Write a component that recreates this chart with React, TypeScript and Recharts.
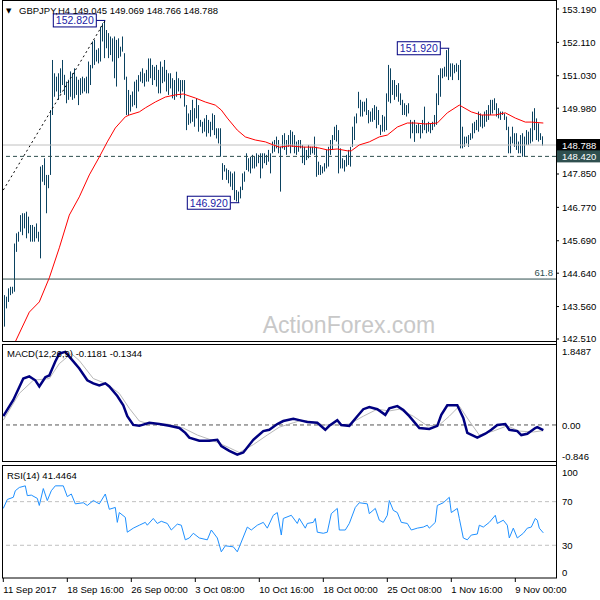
import React from "react";
import {
  Bar,
  ComposedChart,
  Line,
  ReferenceDot,
  ReferenceLine,
  XAxis,
  YAxis,
} from "recharts";

// GBPJPY H4 bars, high / low per bar (11 Sep - 10 Nov 2017)
const highs = [
  143.18, 143.93, 143.88, 144.15, 144.2, 144.2, 145.6, 145.93, 145.98, 146.52,
  146.58, 146.58, 146.63, 146.47, 146.2, 146.2, 146.14, 146.25, 145.98, 148.09,
  148.14, 148.36, 147.82, 147.82, 149.92, 151.54, 151.11, 151.0, 151.11, 151.27,
  151.54, 151.06, 150.84, 150.9, 151.17, 151.11, 151.27, 151.0, 150.9, 150.95,
  151.0, 150.95, 151.0, 151.49, 151.38, 152.14, 152.19, 151.87, 151.92, 152.62,
  152.73, 152.82, 152.51, 152.41, 152.3, 152.24, 152.3, 152.19, 152.24, 151.97,
  152.3, 151.76, 151.0, 150.57, 150.41, 150.52, 150.84, 150.9,
  151.05, 151.16, 151.27, 151.11, 151.22, 151.59, 151.59, 151.38, 151.32, 151.38,
  151.22, 151.49, 151.32, 151.54, 151.22, 151.11, 151.11, 150.95, 150.89, 151.16,
  150.95, 150.89, 150.89, 150.89, 150.08, 149.81, 149.92, 150.25, 149.98, 150.3,
  150.08, 149.6, 149.54, 149.65, 149.76, 149.6, 149.54, 149.81, 149.76, 149.33,
  149.33, 149.33, 148.2, 148.14, 148.03, 147.98, 147.93, 147.87, 147.93, 147.33,
  147.28, 147.44, 147.87, 147.93, 148.52, 148.36, 148.41, 148.47, 148.41, 148.52,
  148.47, 148.52, 148.52, 148.52, 148.47, 148.63, 148.52,
  148.9, 148.95, 149.06, 148.95, 148.73, 149.11, 149.17, 148.95, 149.11, 149.27,
  149.22, 149.11, 148.9, 148.95, 148.95, 148.79, 148.73, 148.63, 148.79, 148.73,
  148.73, 149.06, 148.73, 148.25, 148.14, 148.09, 148.2, 148.63, 148.73, 148.95,
  149.11, 149.38, 149.44, 149.27, 148.68, 148.36, 148.3, 148.47, 148.63, 148.73,
  149.38, 149.71, 149.81, 150.51, 150.25, 150.19, 150.19, 150.3, 149.92, 149.87,
  149.98, 150.08, 150.03, 149.92, 149.44, 149.76, 149.71, 150.46, 151.38, 151.27,
  150.89, 150.89, 150.73, 150.79, 150.46, 150.25, 150.14, 150.08, 150.14,
  149.6, 149.54, 149.6, 149.44, 149.49, 149.44, 149.6, 150.03, 149.49, 149.54,
  149.49, 149.54, 149.76, 150.46, 151.05, 151.27, 151.27, 151.32, 151.86, 151.92,
  151.43, 151.43, 151.38, 151.43, 151.38, 151.54, 149.38, 149.06, 149.06, 149.11,
  149.17, 149.49, 149.54, 149.6, 149.87, 149.81, 149.76, 149.87, 149.92, 150.08,
  150.25, 150.25, 150.3, 150.14, 149.98, 149.87, 149.87, 149.81, 149.71, 149.38,
  149.06, 149.38, 149.17, 149.17, 148.9, 149.11, 149.17, 149.06, 149.27, 149.22,
  149.33, 149.87, 149.98, 149.65, 149.49, 149.17, 149.07,
];

const lows = [
  142.7, 142.91, 143.5, 143.71, 143.93, 143.98, 144.04, 145.33, 145.66, 145.98,
  145.87, 146.09, 145.77, 145.93, 145.66, 145.66, 145.66, 145.77, 145.66, 145.12,
  147.6, 147.49, 146.58, 147.39, 147.82, 149.76, 150.35, 150.52, 150.25, 150.46,
  150.73, 150.41, 150.14, 150.25, 150.35, 150.25, 150.3, 150.41, 150.08, 150.41,
  150.46, 150.52, 150.46, 150.46, 150.73, 151.27, 151.38, 151.49, 151.43, 151.49,
  152.14, 151.6, 151.92, 151.6, 151.7, 151.49, 150.95, 150.68, 151.6, 151.65,
  151.81, 150.9, 149.76, 149.76, 149.87, 150.03, 150.08, 149.98,
  150.52, 150.84, 150.79, 150.68, 150.84, 150.84, 150.95, 150.73, 150.89, 150.68,
  150.46, 150.46, 150.79, 150.84, 150.52, 150.41, 150.62, 150.3, 150.25, 150.35,
  150.52, 150.3, 150.52, 150.03, 149.27, 149.44, 149.49, 149.54, 149.38, 149.65,
  149.22, 149.38, 149.17, 149.22, 149.06, 149.17, 149.06, 149.27, 149.11, 149.0,
  148.84, 148.41, 147.66, 147.93, 147.66, 147.55, 147.44, 147.33, 147.01, 146.96,
  146.92, 147.06, 147.33, 147.6, 147.98, 147.93, 147.87, 148.03, 148.03, 148.09,
  148.2, 147.71, 148.03, 148.2, 148.14, 148.25, 147.87,
  148.52, 148.57, 148.68, 148.52, 147.28, 148.68, 148.63, 148.47, 148.73, 148.52,
  148.73, 148.52, 148.47, 148.57, 148.68, 148.2, 148.14, 148.3, 148.36, 148.47,
  148.52, 148.47, 147.76, 147.82, 147.82, 147.87, 147.93, 148.03, 148.09, 148.47,
  148.63, 148.95, 148.9, 147.87, 148.03, 148.03, 147.93, 148.09, 148.14, 148.09,
  148.73, 148.95, 149.49, 149.98, 149.71, 149.71, 149.87, 149.76, 149.49, 149.54,
  149.54, 149.6, 149.33, 149.44, 149.11, 149.22, 149.22, 149.27, 150.19, 150.14,
  150.41, 150.25, 150.35, 150.19, 150.08, 149.76, 149.76, 149.71, 149.81,
  149.0, 149.17, 148.89, 149.17, 149.17, 149.0, 149.17, 149.27, 149.17, 149.22,
  149.17, 149.27, 149.38, 149.44, 150.08, 150.35, 150.95, 151.0, 151.0, 150.89,
  151.0, 150.89, 151.11, 151.16, 150.89, 148.68, 148.68, 148.73, 148.84, 148.73,
  148.95, 149.0, 149.17, 149.27, 149.22, 149.38, 149.33, 149.38, 149.54, 149.6,
  149.76, 149.81, 149.92, 149.71, 149.65, 149.6, 149.76, 149.6, 149.27, 148.52,
  148.52, 148.84, 148.73, 148.63, 148.52, 148.52, 148.41, 148.41, 148.79, 148.79,
  148.84, 148.9, 149.27, 148.95, 148.9, 148.95, 148.77,
];

// moving average (red)
const maIdx = [
  6, 13, 18, 23, 28, 33, 38, 43, 48, 52, 56, 61, 63, 68, 71, 76, 81, 86, 90, 96,
  101, 106, 109, 112, 117, 121, 126, 131, 135, 138, 143, 150, 155, 158, 162,
  167, 172, 174, 178, 183, 188, 192, 197, 202, 206, 211, 217, 222, 228, 234,
  239, 246, 251, 256, 261, 264, 270,
];
const maVal = [
  142.42, 143.38, 143.71, 144.49, 145.46, 146.52, 147.11, 147.82, 148.4, 148.89,
  149.34, 149.7, 149.76, 149.86, 149.99, 150.18, 150.34, 150.41, 150.44, 150.31,
  150.18, 150.08, 149.92, 149.66, 149.27, 149.05, 148.95, 148.89, 148.79, 148.72,
  148.76, 148.72, 148.72, 148.69, 148.63, 148.66, 148.6, 148.6, 148.79, 148.89,
  149.05, 149.11, 149.37, 149.5, 149.5, 149.47, 149.5, 149.83, 150.08, 149.86,
  149.76, 149.76, 149.83, 149.66, 149.53, 149.53, 149.5,
];

// dotted trend line up to the 152.820 high
const trendIdx = [0, 51];
const trendVal = [147.33, 152.82];

// swing labels
const markIdx = [51, 118, 223];
const markVal = [152.82, 146.92, 151.92];

const LAST_PRICE = 148.788;
const SUPPORT = 148.42;
const FIB_618 = 144.45;

const priceTicks = [
  153.19, 152.11, 151.03, 149.98, LAST_PRICE, SUPPORT, 147.85, 146.77, 145.69,
  144.64, 143.56, 142.51,
];

// MACD(12,26,9)
const macdIdx = [
  0, 5, 10, 13, 16, 18, 21, 23, 26, 28, 31, 33, 38, 42, 45, 48, 51, 53, 57, 60,
  62, 65, 68, 73, 78, 83, 88, 91, 93, 98, 103, 107, 109, 113, 117, 120, 125, 130,
  133, 137, 140, 145, 148, 152, 157, 161, 163, 167, 169, 173, 177, 180, 183, 187,
  191, 193, 197, 200, 203, 208, 213, 217, 219, 222, 227, 230, 232, 237, 241, 244,
  247, 251, 253, 257, 259, 262, 266, 267, 270,
];
const macdVal = [
  0.2, 0.57, 1.06, 1.11, 1.02, 0.88, 1.09, 1.13, 1.45, 1.63, 1.67, 1.56, 1.29,
  1.02, 0.95, 0.9, 0.95, 0.88, 0.66, 0.45, 0.2, 0.0, -0.02, 0.05, 0.02, -0.02,
  -0.07, -0.18, -0.29, -0.36, -0.36, -0.34, -0.48, -0.59, -0.68, -0.63, -0.34,
  -0.14, -0.11, 0.02, 0.09, 0.14, 0.11, 0.07, 0.05, -0.11, -0.02, 0.11, 0.0,
  -0.02, 0.2, 0.36, 0.41, 0.36, 0.23, 0.38, 0.43, 0.34, 0.2, -0.07, -0.09, -0.02,
  0.23, 0.45, 0.45, 0.16, -0.18, -0.29, -0.2, -0.11, 0.0, 0.02, -0.11, -0.14,
  -0.23, -0.2, -0.07, -0.05, -0.12,
];
const signalIdx = [
  0, 8, 15, 23, 28, 34, 38, 45, 52, 58, 63, 68, 73, 82, 90, 97, 105, 113, 118,
  125, 132, 138, 145, 148, 153, 160, 167, 173, 180, 187, 193, 198, 205, 212, 218,
  223, 228, 233, 238, 245, 252, 258, 265, 270,
];
const signalVal = [
  0.11, 0.72, 1.02, 1.06, 1.4, 1.63, 1.47, 1.06, 0.93, 0.72, 0.38, 0.09, 0.02,
  0.02, -0.07, -0.23, -0.36, -0.52, -0.63, -0.45, -0.23, -0.05, 0.05, 0.09, 0.09,
  0.0, 0.0, 0.02, 0.2, 0.36, 0.32, 0.36, 0.2, -0.02, 0.0, 0.2, 0.43, 0.09, -0.23,
  -0.14, -0.02, -0.14, -0.16, -0.13,
];
const macdTicks = [1.8487, 0, -0.846];
const macdTickText = ["1.8487", "0.00", "-0.846"];

// RSI(14)
const rsiIdx = [
  0, 2, 5, 6, 8, 11, 12, 14, 17, 18, 20, 22, 24, 26, 30, 32, 34, 36, 40, 42, 45,
  48, 51, 53, 56, 57, 58, 61, 62, 65, 68, 71, 72, 75, 77, 79, 82, 84, 87, 89, 91,
  93, 95, 98, 102, 104, 107, 109, 111, 115, 117, 119, 122, 124, 127, 130, 132,
  135, 137, 139, 140, 144, 147, 148, 151, 152, 155, 156, 157, 160, 162, 164, 167,
  168, 171, 173, 176, 178, 182, 183, 186, 188, 190, 192, 193, 195, 197, 199, 202,
  204, 207, 210, 212, 213, 216, 217, 220, 223, 224, 227, 228, 230, 232, 234, 237,
  238, 240, 243, 246, 247, 250, 252, 253, 255, 257, 260, 262, 264, 266, 267, 268,
  270,
];
const rsiVal = [
  63.8, 72, 74, 80, 83, 84.5, 75.5, 76, 73, 66.5, 82, 71, 80, 84.5, 84.5, 74.6,
  77, 68, 69, 66.5, 71, 68, 77, 63, 64.7, 51, 60, 55.6, 42, 45.7, 48.4, 51, 48.4,
  54.6, 50, 52, 50, 44, 49.4, 48.4, 35, 36.7, 41, 36.7, 35, 44, 36.7, 24, 29.5,
  28.6, 24, 33, 46.7, 44, 48.4, 51, 45.7, 57.5, 60, 39.4, 54.6, 57.5, 50, 54.6,
  45.7, 50, 51, 54.6, 42, 41, 42, 59, 63.8, 44, 44, 50, 64.7, 69, 68, 59, 63.8,
  53, 51, 57.5, 71, 62, 60, 51, 50, 44, 45.7, 46.7, 48.4, 45.7, 51, 66.5, 69, 74,
  60, 63.8, 54.6, 36.7, 35, 39.4, 40.3, 48.4, 46.7, 51, 57.5, 50, 53, 48.4, 36.7,
  45.7, 36.7, 41, 45.7, 46.7, 54.6, 53, 45.7, 41.4,
];
const rsiTicks = [100, 70, 30, 0];

const timeTicks = [0, 32, 64, 96, 128, 160, 192, 224, 256];
const timeLabels = [
  "11 Sep 2017",
  "18 Sep 16:00",
  "26 Sep 00:00",
  "3 Oct 08:00",
  "10 Oct 16:00",
  "18 Oct 00:00",
  "25 Oct 08:00",
  "1 Nov 16:00",
  "9 Nov 00:00",
];

const FONT = "'Liberation Sans', Arial, sans-serif";
const FS = 9.5;
const BAR_COLOR = "#0b4260";
const X_DOMAIN: [number, number] = [-0.65, 276.35];

const bars = highs.map((h, i) => ({ i, range: [lows[i], h] }));
const pairs = (idx: number[], val: number[]) =>
  idx.map((i, k) => ({ i, v: val[k] }));

const OhlcShape = (props: any) => {
  const { x, y, width, height } = props;
  if (x == null || y == null) return null;
  const cx = Math.round(x + width / 2 - 0.5);
  return (
    <rect x={cx} y={y} width={1} height={Math.max(height, 1)} fill={BAR_COLOR} />
  );
};

const PriceTick = (props: any) => {
  const { x, y, payload } = props;
  const v = payload.value;
  const label = v.toFixed(3);
  if (v === LAST_PRICE || v === SUPPORT) {
    return (
      <g>
        <rect
          x={x - 5}
          y={y - 6}
          width={44}
          height={12}
          fill={v === LAST_PRICE ? "#000" : "#2f4f4f"}
        />
        <text x={x} y={y + 3.5} fill="#fff" fontSize={FS} fontFamily={FONT}>
          {label}
        </text>
      </g>
    );
  }
  return (
    <text x={x} y={y + 3.5} fill="#000" fontSize={FS} fontFamily={FONT}>
      {label}
    </text>
  );
};

const MacdTick = (props: any) => {
  const { x, y, payload } = props;
  const k = macdTicks.indexOf(payload.value);
  const dy = [7, 1, -6][k] ?? 0;
  return (
    <text x={x} y={y + 3.5 + dy} fill="#000" fontSize={FS} fontFamily={FONT}>
      {macdTickText[k]}
    </text>
  );
};

const RsiTick = (props: any) => {
  const { x, y, payload } = props;
  const k = rsiTicks.indexOf(payload.value);
  const dy = [4, 0, 0, -6][k] ?? 0;
  return (
    <text x={x} y={y + 3.5 + dy} fill="#000" fontSize={FS} fontFamily={FONT}>
      {payload.value}
    </text>
  );
};

const TimeTick = (props: any) => {
  const { x, y, payload } = props;
  const k = timeTicks.indexOf(payload.value);
  return (
    <text x={x} y={y + 8.5} fill="#000" fontSize={FS} fontFamily={FONT}>
      {timeLabels[k]}
    </text>
  );
};

const markShape = (value: number) => (props: any) => {
  const { cx, cy } = props;
  const w = 43;
  const right = cx - 9;
  return (
    <g>
      <line x1={right} y1={cy} x2={cx} y2={cy} stroke="#000080" />
      <rect
        x={right - w}
        y={cy - 6.5}
        width={w}
        height={13}
        fill="#fff"
        stroke="#000080"
      />
      <text
        x={right - w / 2}
        y={cy + 3.8}
        textAnchor="middle"
        fill="#1a1aa6"
        fontSize={FS + 1}
        fontFamily={FONT}
      >
        {value.toFixed(3)}
      </text>
    </g>
  );
};

const App: React.FC = () => {
  const maData = pairs(maIdx, maVal);
  const trendData = pairs(trendIdx, trendVal);
  const macdData = pairs(macdIdx, macdVal);
  const signalData = pairs(signalIdx, signalVal);
  const rsiData = pairs(rsiIdx, rsiVal);

  return (
    <div
      style={{
        position: "absolute",
        left: 0,
        top: 0,
        width: 600,
        height: 600,
        background: "#fff",
        fontFamily: FONT,
      }}
    >
      <div style={{ position: "absolute", left: 0, top: 0 }}>
        <ComposedChart
          width={600}
          height={344}
          data={bars}
          margin={{ top: 1, right: 0, bottom: 3, left: 2 }}
        >
          <XAxis
            type="number"
            dataKey="i"
            domain={X_DOMAIN}
            allowDataOverflow
            hide
          />
          <YAxis
            orientation="right"
            width={44}
            domain={[142.445, 153.449]}
            allowDataOverflow
            ticks={priceTicks}
            interval={0}
            axisLine={false}
            tickLine={{ stroke: "#000" }}
            tickSize={3}
            tickMargin={3}
            tick={PriceTick}
          />
          <ReferenceLine y={LAST_PRICE} stroke="#c0c0c0" />
          <ReferenceLine y={SUPPORT} stroke="#2f4f4f" strokeDasharray="4 3" />
          <ReferenceLine
            y={FIB_618}
            stroke="#2f4f4f"
            label={{
              value: "61.8",
              position: "insideBottomRight",
              offset: 3,
              fill: "#2f4f4f",
              fontSize: FS,
              fontFamily: FONT,
            }}
          />
          <Bar
            dataKey="range"
            barSize={1}
            shape={OhlcShape}
            isAnimationActive={false}
          />
          <Line
            data={maData}
            dataKey="v"
            type="linear"
            stroke="#ff0000"
            strokeWidth={1}
            dot={false}
            isAnimationActive={false}
          />
          <Line
            data={trendData}
            dataKey="v"
            type="linear"
            stroke="#000"
            strokeWidth={1}
            strokeDasharray="2 3"
            dot={false}
            isAnimationActive={false}
          />
          {markIdx.map((i, k) => (
            <ReferenceDot
              key={i}
              x={i}
              y={markVal[k]}
              shape={markShape(markVal[k])}
            />
          ))}
        </ComposedChart>
      </div>

      <div style={{ position: "absolute", left: 0, top: 344 }}>
        <ComposedChart
          width={600}
          height={118}
          margin={{ top: 0, right: 0, bottom: 0, left: 2 }}
        >
          <XAxis
            type="number"
            dataKey="i"
            domain={X_DOMAIN}
            allowDataOverflow
            hide
          />
          <YAxis
            orientation="right"
            width={44}
            domain={[-0.846, 1.8487]}
            allowDataOverflow
            ticks={macdTicks}
            interval={0}
            axisLine={false}
            tickLine={false}
            tickSize={3}
            tickMargin={3}
            tick={MacdTick}
          />
          <ReferenceLine y={0} stroke="#555" strokeDasharray="4 3" />
          <Line
            data={signalData}
            dataKey="v"
            type="linear"
            stroke="#b8b8b8"
            strokeWidth={1}
            dot={false}
            isAnimationActive={false}
          />
          <Line
            data={macdData}
            dataKey="v"
            type="linear"
            stroke="#000080"
            strokeWidth={2.5}
            dot={false}
            isAnimationActive={false}
          />
        </ComposedChart>
      </div>

      <div style={{ position: "absolute", left: 0, top: 465 }}>
        <ComposedChart
          width={600}
          height={135}
          margin={{ top: 0, right: 0, bottom: 0, left: 2 }}
        >
          <XAxis
            type="number"
            dataKey="i"
            domain={X_DOMAIN}
            allowDataOverflow
            ticks={timeTicks}
            interval={0}
            height={22}
            axisLine={false}
            tickLine={{ stroke: "#000" }}
            tickSize={4}
            tickMargin={2}
            tick={TimeTick}
          />
          <YAxis
            orientation="right"
            width={44}
            domain={[0, 103.6]}
            allowDataOverflow
            ticks={rsiTicks}
            interval={0}
            axisLine={false}
            tickLine={false}
            tickSize={3}
            tickMargin={3}
            tick={RsiTick}
          />
          <ReferenceLine y={70} stroke="#c0c0c0" strokeDasharray="4 3" />
          <ReferenceLine y={30} stroke="#c0c0c0" strokeDasharray="4 3" />
          <Line
            data={rsiData}
            dataKey="v"
            type="linear"
            stroke="#1e90ff"
            strokeWidth={1}
            dot={false}
            isAnimationActive={false}
          />
        </ComposedChart>
      </div>

      <svg
        width={600}
        height={600}
        style={{ position: "absolute", left: 0, top: 0, pointerEvents: "none" }}
      >
        <g fill="none" stroke="#000" strokeWidth={1}>
          <path d="M2.5 0.5 H556.5 M2.5 0 V341.5 H556.5" />
          <rect x={2.5} y={344.5} width={554} height={117} />
          <rect x={2.5} y={465.5} width={554} height={112.5} />
          <path d="M556.5 0 V578" />
        </g>
        <text
          x={349}
          y={333}
          textAnchor="middle"
          fill="#c8c8c8"
          fontSize={23}
          fontFamily={FONT}
        >
          ActionForex.com
        </text>
        <text x={6} y={13} fontSize={7} fontFamily="DejaVu Sans" fill="#000">
          ▼
        </text>
        <text x={19} y={13.5} fontSize={FS} fontFamily={FONT} fill="#000">
          GBPJPY,H4  149.045 149.069 148.766 148.788
        </text>
        <text x={7} y={357} fontSize={FS} fontFamily={FONT} fill="#000">
          MACD(12,26,9) -0.1181 -0.1344
        </text>
        <text x={7} y={479} fontSize={FS} fontFamily={FONT} fill="#000">
          RSI(14) 41.4464
        </text>
      </svg>
    </div>
  );
};

export default App;
